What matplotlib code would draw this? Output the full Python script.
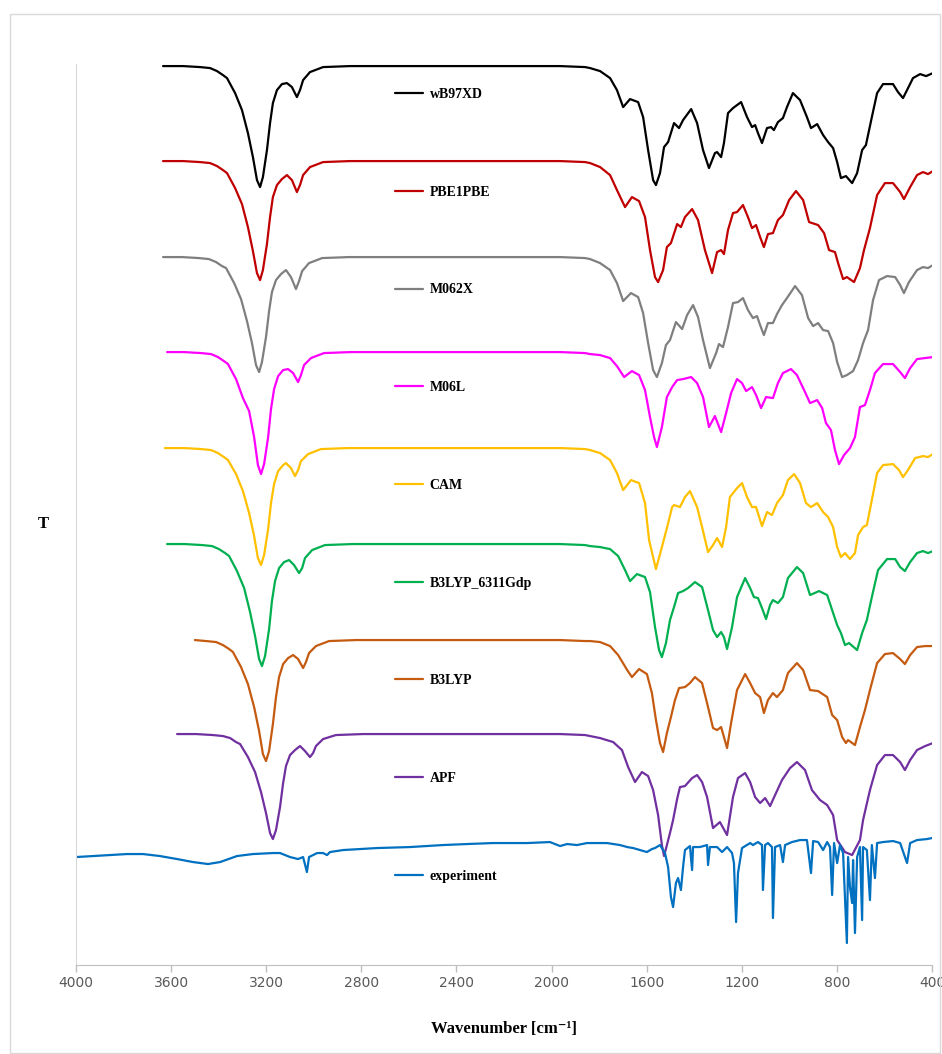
import numpy as np
import matplotlib
matplotlib.use("Agg")
import matplotlib.pyplot as plt
from matplotlib.patches import Rectangle

# (wavenumber cm-1, T)
wb97xd = [(3634, 899), (3550, 899), (3478, 898), (3436, 897), (3407, 894), (3382, 890), (3365, 887),
          (3331, 872), (3302, 855), (3277, 832), (3256, 808), (3239, 785), (3226, 778), (3214, 788),
          (3197, 815), (3184, 842), (3172, 862), (3155, 875), (3134, 881), (3113, 882), (3092, 878),
          (3071, 868), (3058, 875), (3045, 885), (3016, 893), (2961, 898), (2848, 899), (2427, 899),
          (1964, 899), (1859, 898), (1838, 897), (1796, 894), (1754, 887),
          (1725, 875), (1699, 858), (1670, 866), (1636, 863), (1615, 848), (1594, 815), (1573, 785),
          (1561, 780), (1544, 792), (1527, 818), (1510, 823), (1485, 842), (1464, 837), (1447, 845),
          (1413, 856), (1388, 842), (1363, 815), (1338, 797), (1313, 812), (1304, 813), (1287, 808),
          (1275, 822), (1258, 852), (1237, 857), (1203, 863), (1178, 848), (1157, 838), (1144, 840),
          (1132, 832), (1115, 822), (1094, 837), (1077, 838), (1065, 835), (1048, 843), (1027, 847),
          (1010, 858), (985, 872), (955, 865), (926, 848), (909, 837), (883, 841), (858, 830),
          (837, 823), (816, 817), (799, 803), (783, 787), (762, 789), (736, 782), (715, 792),
          (694, 815), (678, 820), (653, 848), (631, 872), (606, 881), (564, 881), (543, 873),
          (522, 867), (505, 875), (480, 887), (450, 891), (425, 889), (396, 892)]

pbe1pbe = [(3634, 804), (3550, 804), (3478, 803), (3436, 802), (3407, 799), (3382, 795), (3365, 792),
           (3331, 777), (3302, 761), (3277, 738), (3256, 714), (3239, 692), (3226, 685), (3214, 695),
           (3197, 721), (3184, 748), (3172, 768), (3155, 780), (3134, 786), (3113, 790), (3092, 785),
           (3071, 773), (3058, 780), (3045, 790), (3016, 798), (2961, 803), (2848, 804), (2427, 804),
           (1964, 804), (1859, 803), (1838, 802), (1796, 798), (1754, 790),
           (1725, 775), (1691, 758), (1662, 768), (1632, 764), (1607, 748), (1586, 715), (1565, 688),
           (1552, 683), (1531, 695), (1515, 718), (1498, 722), (1472, 741), (1456, 738), (1439, 748),
           (1409, 756), (1384, 745), (1355, 715), (1325, 692), (1304, 713), (1287, 715), (1275, 711),
           (1258, 735), (1237, 752), (1220, 753), (1195, 760), (1174, 748), (1157, 737), (1140, 740),
           (1123, 728), (1107, 718), (1090, 731), (1069, 732), (1048, 745), (1027, 750), (1001, 765),
           (972, 774), (942, 765), (917, 743), (879, 740), (854, 732), (833, 715), (808, 713),
           (795, 702), (774, 686), (758, 688), (728, 683), (703, 697), (686, 715), (661, 737),
           (631, 770), (598, 782), (564, 782), (534, 773), (518, 766), (492, 778), (463, 790),
           (438, 793), (417, 791), (396, 794)]

m062x = [(3634, 708), (3554, 708), (3483, 707), (3441, 706), (3411, 703), (3386, 699), (3369, 697),
         (3335, 682), (3306, 666), (3281, 644), (3260, 622), (3243, 600), (3230, 593), (3218, 603),
         (3201, 628), (3188, 654), (3176, 673), (3159, 685), (3138, 691), (3117, 695), (3096, 688),
         (3075, 676), (3062, 684), (3049, 694), (3020, 702), (2965, 707), (2852, 708), (2427, 708),
         (1964, 708), (1859, 707), (1838, 706), (1796, 702), (1754, 695),
         (1725, 682), (1699, 664), (1666, 672), (1636, 668), (1615, 652), (1594, 622), (1573, 595),
         (1557, 588), (1536, 602), (1519, 620), (1502, 625), (1477, 643), (1451, 636), (1430, 650),
         (1405, 660), (1384, 648), (1363, 625), (1334, 597), (1308, 612), (1296, 621), (1279, 618),
         (1258, 638), (1237, 662), (1216, 663), (1195, 667), (1174, 655), (1153, 647), (1136, 649),
         (1123, 640), (1107, 630), (1090, 642), (1069, 642), (1052, 651), (1031, 660), (1010, 667),
         (976, 679), (947, 670), (921, 647), (900, 639), (879, 642), (858, 635), (837, 634),
         (816, 622), (799, 603), (778, 588), (758, 590), (732, 594), (711, 605), (690, 622),
         (669, 635), (648, 665), (623, 685), (589, 689), (555, 688), (534, 680), (518, 672),
         (497, 683), (463, 695), (438, 698), (417, 697), (396, 700)]

m06l = [(3617, 613), (3546, 613), (3474, 612), (3432, 611), (3403, 608), (3378, 604), (3361, 601),
        (3327, 586), (3298, 567), (3272, 554), (3251, 528), (3235, 500), (3222, 491), (3209, 501),
        (3192, 528), (3180, 556), (3167, 576), (3150, 589), (3129, 595), (3108, 596), (3087, 592),
        (3066, 583), (3054, 590), (3041, 600), (3012, 607), (2957, 612), (2844, 613), (2427, 613),
        (1964, 613), (1859, 612), (1838, 611), (1796, 610), (1754, 607),
        (1725, 599), (1695, 588), (1662, 594), (1632, 590), (1607, 575), (1586, 548), (1569, 528),
        (1557, 518), (1536, 538), (1515, 568), (1493, 578), (1472, 585), (1447, 586), (1413, 588),
        (1388, 582), (1363, 568), (1338, 538), (1313, 549), (1287, 533), (1266, 552), (1245, 572),
        (1220, 586), (1199, 582), (1182, 574), (1157, 578), (1140, 570), (1119, 557), (1098, 568),
        (1069, 567), (1048, 582), (1027, 592), (993, 596), (968, 590), (938, 575), (913, 562),
        (883, 565), (862, 557), (846, 542), (825, 535), (808, 515), (791, 501), (770, 510),
        (745, 517), (724, 528), (703, 558), (682, 560), (661, 575), (640, 592), (606, 601),
        (564, 601), (534, 593), (514, 587), (492, 597), (463, 606), (396, 608)]

cam = [(3626, 517), (3546, 517), (3474, 516), (3432, 515), (3403, 512), (3378, 508), (3361, 505),
       (3327, 491), (3298, 474), (3272, 452), (3251, 429), (3235, 407), (3222, 400), (3209, 410),
       (3192, 436), (3180, 462), (3167, 481), (3150, 494), (3129, 500), (3117, 502), (3096, 497),
       (3079, 489), (3066, 495), (3054, 504), (3024, 511), (2970, 516), (2856, 517), (2427, 517),
       (1964, 517), (1859, 516), (1838, 515), (1796, 512), (1754, 505),
       (1725, 492), (1699, 475), (1666, 485), (1632, 482), (1607, 462), (1590, 425), (1561, 396),
       (1536, 418), (1515, 437), (1493, 458), (1485, 460), (1460, 458), (1439, 468), (1418, 474),
       (1388, 458), (1367, 438), (1342, 413), (1321, 420), (1304, 427), (1283, 418), (1266, 438),
       (1250, 468), (1220, 477), (1199, 482), (1178, 468), (1157, 458), (1140, 458), (1115, 439),
       (1094, 453), (1073, 450), (1052, 462), (1027, 470), (1006, 485), (980, 491), (955, 482),
       (930, 462), (909, 458), (883, 462), (858, 453), (837, 448), (816, 438), (799, 418),
       (783, 408), (766, 412), (745, 406), (724, 412), (711, 430), (690, 438), (674, 440),
       (653, 465), (631, 492), (606, 500), (564, 501), (539, 495), (522, 488), (501, 495),
       (471, 507), (438, 509), (417, 508), (396, 511)]

b3lyp_6311gdp = [(3617, 421), (3542, 421), (3470, 420), (3428, 419), (3399, 416), (3373, 412),
                 (3356, 409), (3323, 394), (3293, 377), (3268, 353), (3247, 329), (3230, 306),
                 (3218, 299), (3205, 309), (3188, 336), (3176, 364), (3163, 384), (3146, 397),
                 (3125, 403), (3104, 405), (3083, 400), (3062, 392), (3049, 397), (3037, 407),
                 (3007, 415), (2953, 420), (2839, 421), (2427, 421),
                 (1964, 421), (1859, 420), (1838, 419), (1796, 418), (1754, 416), (1720, 409),
                 (1691, 395), (1670, 384), (1641, 391), (1607, 388), (1586, 373), (1565, 338),
                 (1548, 315), (1536, 308), (1519, 322), (1502, 345), (1485, 358), (1468, 372),
                 (1447, 374), (1426, 377), (1397, 383), (1367, 378), (1342, 355), (1321, 335),
                 (1304, 328), (1287, 333), (1275, 328), (1262, 316), (1241, 338), (1220, 368),
                 (1186, 387), (1165, 377), (1149, 368), (1132, 367), (1115, 357), (1098, 346),
                 (1081, 360), (1069, 365), (1048, 362), (1027, 368), (1006, 387), (968, 398),
                 (942, 392), (913, 370), (875, 374), (841, 370), (820, 355), (799, 340),
                 (783, 332), (766, 320), (749, 322), (715, 315), (694, 332), (674, 345),
                 (653, 368), (627, 395), (589, 406), (555, 406), (534, 398), (514, 394),
                 (492, 403), (463, 412), (438, 414), (417, 412), (396, 414)]

b3lyp = [(3500, 325), (3453, 324), (3411, 323), (3382, 320), (3356, 316), (3340, 313), (3306, 298),
         (3277, 281), (3251, 258), (3230, 234), (3214, 211), (3201, 204), (3188, 214), (3172, 241),
         (3159, 268), (3146, 288), (3129, 301), (3108, 307), (3087, 310), (3066, 306), (3045, 297),
         (3033, 303), (3020, 312), (2991, 319), (2936, 324), (2822, 325), (2427, 325),
         (1964, 325), (1859, 324), (1838, 324),
         (1796, 323), (1754, 319), (1720, 310), (1682, 295), (1662, 288), (1632, 296), (1599, 291),
         (1578, 272), (1561, 245), (1544, 222), (1531, 213), (1515, 232), (1498, 248), (1481, 265),
         (1464, 277), (1439, 278), (1418, 282), (1397, 288), (1367, 282), (1342, 258), (1321, 237),
         (1304, 235), (1287, 238), (1275, 228), (1262, 217), (1245, 242), (1220, 275), (1186, 291),
         (1165, 282), (1144, 272), (1123, 268), (1107, 252), (1090, 265), (1069, 272), (1052, 268),
         (1027, 275), (1006, 292), (968, 302), (942, 295), (913, 275), (879, 274), (841, 268),
         (820, 250), (799, 245), (778, 228), (762, 222), (753, 225), (724, 220), (703, 238),
         (682, 255), (661, 275), (631, 302), (598, 311), (564, 312), (534, 306), (514, 301),
         (492, 310), (463, 318), (429, 319), (396, 319)]

apf = [(3575, 231), (3495, 231), (3424, 230), (3382, 229), (3352, 227), (3327, 223), (3310, 221),
       (3277, 208), (3247, 193), (3222, 173), (3201, 152), (3184, 132), (3172, 126), (3159, 135),
       (3142, 158), (3129, 182), (3117, 199), (3100, 210), (3079, 215), (3058, 219), (3037, 214),
       (3016, 208), (3003, 212), (2991, 219), (2961, 226), (2907, 230), (2793, 231), (2427, 231),
       (1964, 231), (1859, 230), (1838, 229), (1796, 227),
       (1741, 223), (1704, 215), (1678, 198), (1649, 183), (1620, 193), (1594, 189), (1573, 175),
       (1552, 150), (1536, 120), (1527, 109), (1515, 120), (1502, 132), (1489, 145), (1472, 166),
       (1460, 178), (1439, 179), (1409, 187), (1388, 190), (1367, 183), (1346, 168), (1321, 137),
       (1292, 143), (1262, 130), (1237, 168), (1216, 187), (1186, 192), (1165, 183), (1144, 168),
       (1123, 162), (1102, 167), (1081, 159), (1060, 170), (1031, 185), (997, 197), (968, 203),
       (934, 195), (905, 175), (871, 165), (841, 160), (816, 150), (799, 125), (766, 113),
       (736, 110), (703, 125), (690, 145), (661, 175), (631, 200), (598, 210), (564, 210),
       (534, 203), (514, 195), (492, 205), (463, 215), (429, 219), (396, 222)]

experiment = [(4000, 108), (3928, 109), (3857, 110), (3786, 111), (3718, 111), (3647, 109), (3575, 106),
              (3508, 103), (3445, 101), (3394, 103), (3323, 109), (3256, 111), (3172, 112), (3142, 112),
              (3100, 108), (3066, 106), (3045, 108), (3029, 93), (3020, 108), (2986, 112), (2961, 112),
              (2944, 110), (2932, 113), (2877, 115), (2734, 117), (2595, 118), (2457, 120), (2356, 121),
              (2246, 122), (2103, 122), (2007, 123), (1964, 119), (1935, 121), (1893, 120), (1851, 122),
              (1796, 122), (1767, 122), (1712, 120), (1682, 118), (1657, 117), (1628, 115), (1599, 113),
              (1578, 116), (1565, 117), (1544, 120), (1523, 112), (1510, 98), (1498, 68), (1489, 58),
              (1477, 82), (1468, 87), (1456, 75), (1447, 98), (1439, 115), (1418, 119), (1409, 95),
              (1405, 118), (1376, 118), (1346, 120), (1342, 100), (1334, 118), (1304, 118), (1283, 113),
              (1262, 118), (1241, 112), (1233, 102), (1224, 43), (1216, 92), (1199, 117), (1165, 122),
              (1153, 120), (1132, 123), (1115, 120), (1111, 75), (1102, 120), (1090, 122), (1073, 118),
              (1069, 47), (1060, 118), (1039, 120), (1027, 103), (1018, 120), (989, 123), (955, 125),
              (926, 125), (909, 92), (900, 124), (879, 123), (858, 115), (841, 123), (829, 118),
              (820, 70), (812, 122), (799, 102), (787, 120), (774, 112), (758, 22), (753, 108),
              (745, 78), (736, 62), (732, 105), (724, 32), (715, 108), (703, 118), (694, 45),
              (690, 118), (674, 115), (661, 65), (653, 120), (640, 87), (631, 122), (606, 123),
              (564, 124), (534, 122), (505, 102), (492, 122), (463, 125), (421, 126), (400, 127)]

series = [
    ("wB97XD", wb97xd, "#000000"),
    ("PBE1PBE", pbe1pbe, "#C00000"),
    ("M062X", m062x, "#7F7F7F"),
    ("M06L", m06l, "#FF00FF"),
    ("CAM", cam, "#FFC000"),
    ("B3LYP_6311Gdp", b3lyp_6311gdp, "#00B050"),
    ("B3LYP", b3lyp, "#C55A11"),
    ("APF", apf, "#7030A0"),
    ("experiment", experiment, "#0070C0"),
]
xticks = [4000, 3600, 3200, 2800, 2400, 2000, 1600, 1200, 800, 400]

fig = plt.figure(figsize=(9.42, 10.54), dpi=100)
ax = fig.add_axes([0.0807, 0.0844, 0.9087, 0.8548])

for name, pts, col in series:
    arr = np.array(pts)
    ax.plot(arr[:, 0], arr[:, 1], color=col, lw=1.6, label=name,
            solid_joinstyle="round", solid_capstyle="round")

ax.set_xlim(4000, 400)
ax.set_ylim(0, 901)
ax.set_xticks(xticks)
ax.set_xticklabels([str(t) for t in xticks], family=["Liberation Sans Narrow", "DejaVu Sans"],
                   fontsize=10, color="#595959")
ax.set_yticks([])
ax.tick_params(axis="x", length=5, width=1, color="#BFBFBF", pad=3)
for s in ["top", "right"]:
    ax.spines[s].set_visible(False)
ax.spines["left"].set_color("#D9D9D9")
ax.spines["bottom"].set_color("#BFBFBF")

ax.set_xlabel("Wavenumber [cm⁻¹]", family=["Liberation Serif", "DejaVu Serif"],
              fontweight="bold", fontsize=12)
ax.xaxis.set_label_coords(0.5, -0.062)
ax.set_ylabel("T", family=["Liberation Serif", "DejaVu Serif"], fontweight="bold",
              fontsize=12, rotation=0, va="center", ha="center")
ax.yaxis.set_label_coords(-0.0386, 0.49)

leg = ax.legend(loc="upper left", bbox_to_anchor=(395 / 942, 1 - 88 / 1054),
                bbox_transform=fig.transFigure, frameon=False, borderpad=0, borderaxespad=0,
                handlelength=2.0, handletextpad=0.5, labelspacing=6.1,
                prop={"family": "Liberation Serif", "weight": "bold", "size": 10})

fig.patches.append(Rectangle((10 / 942, 1 / 1054), 930 / 942, 1039 / 1054, transform=fig.transFigure,
                             fill=False, edgecolor="#D9D9D9", lw=1))

fig.savefig("out.png", dpi=100)
